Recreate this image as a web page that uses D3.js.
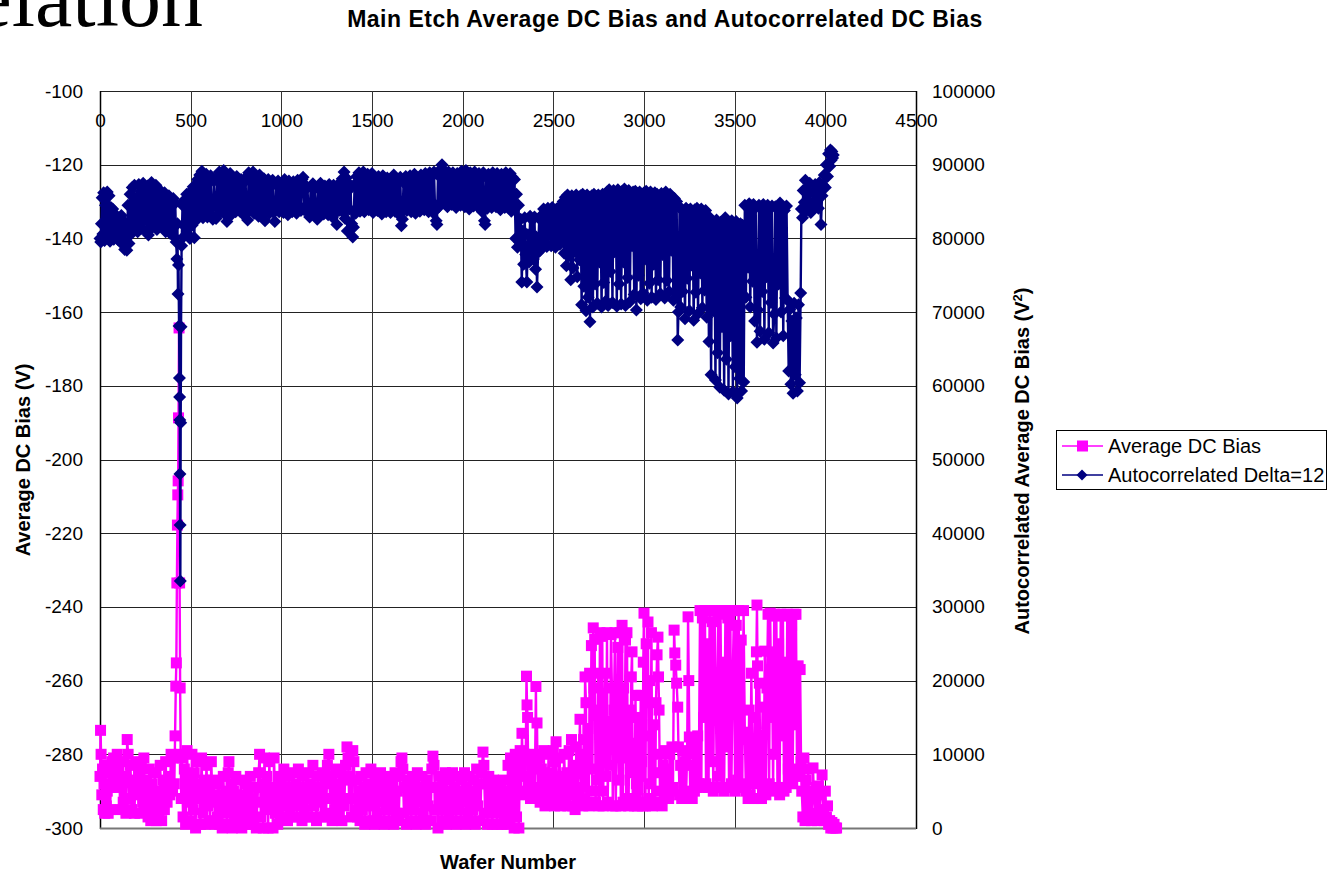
<!DOCTYPE html>
<html lang="en">
  <head>
    <meta charset="UTF-8">
    <title>Main Etch Average DC Bias and Autocorrelated DC Bias</title>
    <style>
      body { margin: 0; background: #fff; }
      svg text { font-family: "Liberation Sans", Arial, sans-serif; }
    </style>
  </head>
  <body>
    <div id="data_viz_area"></div>
    <script src="https://d3js.org/d3.v7.min.js"></script>
    <script>
    // [wafer number, average DC bias (V)] -> left axis
    var avgDcBias = [
      [0,-286],[3,-273.5],[6,-280],[10,-291],[14,-284],[18,-295],[22,-288],[26,-296],[30,-283],[35,-294],[40,-290],[45,-296],[50,-285],[55,-295],[60,-289],
      [65,-282],[70,-288],[75,-281],[80,-287],[85,-283],[90,-289],[95,-280],[100,-287],
      [105,-284],[112,-295],[120,-282],[128,-293],[136,-286],[143,-296],[150,-276],[155,-280],[160,-292],[168,-283],[175,-295],[182,-287],[190,-296],[198,-282],
      [205,-291],[212,-285],[220,-296],[228,-283],[235,-293],[242,-281],[250,-295],[258,-287],[265,-297],[272,-284],[280,-298],[288,-288],[295,-297],[302,-285],
      [310,-298],[318,-290],[325,-296],[332,-283],[340,-298],[348,-287],[355,-295],[362,-282],[370,-293],[378,-286],[385,-291],[392,-280],[400,-290],[406,-281],[410,-288],
      [414,-275],[418,-261.5],[421,-255.2],[424,-233.5],[427,-217.8],[429,-209.6],[431,-205.8],[433,-188.7],[436,-164.3],[439,-233.5],[442,-262],[445,-280],[448,-292],
      [452,-281],[458,-297],[465,-284],[472,-299],[480,-279],[487,-293],[494,-286],[500,-298],[507,-280],[514,-295],[520,-285],[527,-300],[534,-282],[540,-292],
      [547,-288],[554,-299],[560,-281],[567,-296],[574,-287],[580,-299],[587,-283],[594,-294],[600,-289],[607,-298],[614,-282],[620,-293],[627,-287],[634,-299],[640,-291],[647,-297],
      [654,-288],[660,-299],[667,-291],[674,-300],[680,-286],[687,-296],[694,-290],[700,-299],[707,-285],[711,-282],[716,-295],[722,-288],[729,-300],[736,-290],
      [742,-297],[749,-286],[756,-299],[762,-291],[769,-298],[776,-287],[782,-300],[789,-292],[796,-297],[802,-288],[809,-299],[816,-290],[822,-296],[829,-286],
      [836,-299],[842,-292],[849,-298],[856,-289],[862,-300],[868,-293],
      [875,-285],[880,-280],[887,-297],[894,-288],[900,-300],[907,-281],[914,-295],[920,-286],[927,-300],[934,-282],[940,-294],[947,-289],[954,-300],[960,-281],
      [967,-296],[974,-290],[980,-299],[987,-286],[994,-297],
      [1000,-288],[1007,-297],[1014,-284],[1020,-294],[1027,-289],[1034,-298],[1040,-286],[1047,-295],[1054,-290],[1060,-297],[1067,-285],[1074,-293],[1080,-288],
      [1087,-297],[1094,-284],[1100,-294],[1107,-290],[1114,-298],[1120,-286],[1127,-295],[1134,-289],[1140,-297],[1147,-285],[1154,-292],[1160,-288],[1167,-297],
      [1174,-283],[1180,-294],[1187,-290],[1194,-298],[1200,-286],[1207,-293],[1214,-289],[1220,-297],
      [1227,-285],[1234,-297],[1240,-287],[1247,-296],[1254,-283],[1262,-280],[1268,-292],[1274,-286],[1280,-298],[1287,-288],[1294,-295],[1300,-284],[1307,-297],
      [1314,-289],[1320,-296],[1327,-285],[1334,-298],[1340,-287],[1347,-294],[1354,-283],[1362,-278],[1368,-281],[1374,-292],[1380,-286],[1387,-297],[1394,-279],
      [1400,-282],[1407,-295],[1414,-287],[1420,-297],
      [1427,-290],[1434,-298],[1440,-286],[1447,-295],[1454,-289],[1460,-299],[1467,-285],[1474,-293],[1480,-288],[1487,-298],[1494,-284],[1500,-294],[1507,-290],
      [1514,-299],[1520,-286],[1527,-296],[1534,-288],[1540,-298],[1547,-285],[1554,-293],[1560,-289],[1567,-299],[1574,-287],[1580,-295],[1587,-290],[1594,-298],
      [1600,-286],[1607,-294],[1614,-288],[1620,-299],[1627,-285],[1634,-296],[1640,-290],[1647,-298],[1654,-286],[1660,-282],[1665,-281],[1670,-284],[1676,-296],
      [1683,-289],[1690,-299],[1696,-287],[1703,-294],[1710,-290],[1716,-298],[1723,-286],[1730,-295],[1736,-288],[1743,-299],[1750,-285],[1756,-293],[1763,-289],
      [1770,-298],[1776,-286],[1783,-296],[1790,-290],[1796,-299],[1803,-287],[1810,-294],[1816,-289],[1823,-298],
      [1830,-284],[1836,-280.5],[1842,-283],[1849,-295],[1856,-289],[1864,-300],[1870,-292],
      [1877,-286],[1884,-298],[1890,-288],[1897,-295],[1904,-285],[1910,-299],[1917,-290],[1924,-296],[1930,-287],[1937,-298],[1944,-285],[1950,-294],[1957,-289],
      [1964,-299],[1970,-286],[1977,-295],[1984,-290],[1990,-298],[1997,-287],[2004,-293],[2010,-285],[2017,-299],[2024,-289],[2030,-296],[2037,-286],[2044,-298],
      [2050,-290],[2057,-295],[2064,-287],[2070,-299],[2077,-284],[2084,-294],[2090,-288],[2097,-298],
      [2104,-285],[2112,-279.4],[2117,-283],[2124,-296],[2130,-288],[2137,-299],[2144,-286],[2150,-295],[2157,-289],[2164,-299],[2170,-287],[2177,-296],[2184,-290],
      [2190,-299],[2197,-288],[2204,-295],[2210,-289],[2217,-299],[2224,-287],[2230,-297],[2237,-290],[2244,-299],
      [2250,-283],[2257,-298],[2264,-281],[2270,-296],[2277,-284],[2284,-300],[2290,-280],[2297,-297],[2304,-282],[2310,-300],[2317,-279],[2322,-291],[2327,-274.3],
      [2333,-286],[2340,-280],[2346,-290],[2352,-258.8],[2355,-266.6],[2358,-270],[2362,-288],[2368,-281],[2374,-292],[2380,-283],[2386,-291],[2392,-280],[2398,-289],
      [2404,-261.6],[2407,-283],[2410,-271.5],[2414,-290],
      [2420,-281],[2427,-293],[2434,-284],[2440,-292],[2447,-279],[2454,-294],[2460,-286],[2467,-292],[2474,-280],[2480,-293],[2487,-285],[2494,-291],[2500,-279],
      [2507,-294],[2512,-282],[2515,-276.6],[2520,-288],[2527,-293],[2534,-281],[2540,-294],[2547,-286],[2554,-292],[2560,-280],[2567,-293],[2574,-285],[2580,-294],[2587,-279],
      [2594,-291],[2600,-276],[2607,-294],[2614,-283],[2620,-295],[2627,-278],[2634,-290],[2640,-284],
      [2647,-270.5],[2652,-292],[2657,-280],[2662,-294],[2667,-276],[2672,-289],[2675,-259],[2680,-266],[2684,-293],[2690,-273],[2696,-294],[2700,-258],[2705,-284],
      [2710,-250.5],[2715,-290],[2720,-245.7],[2724,-262],[2728,-248.8],[2733,-293],[2738,-268],[2742,-287],[2747,-258],[2752,-294],[2757,-247],[2762,-280],[2767,-290],
      [2770,-248],[2774,-294],[2780,-275],[2786,-258],[2791,-286],[2796,-247],[2800,-293],[2806,-271],[2812,-283],[2818,-247.5],[2823,-262],[2828,-294],[2834,-268],
      [2840,-247],[2844,-294],[2850,-276],[2856,-251],[2862,-287],[2868,-247],[2872,-294],[2879,-245],[2884,-293],[2888,-262],[2893,-281],[2898,-249],[2902,-292],
      [2906,-247],[2910,-278],[2915,-294],[2920,-268],[2925,-285],[2930,-259],[2934,-252.2],[2938,-292],[2943,-277],[2948,-294],[2953,-264],[2958,-288],
      [2964,-294],[2968,-270],[2972,-286],[2977,-293],[2982,-264],[2987,-282],[2992,-294],[2996,-255],[3000,-241.7],[3004,-275],[3008,-294],[3012,-250],[3017,-266],
      [3022,-244.1],[3026,-292],[3031,-260],[3036,-288],[3041,-247],[3046,-294],[3051,-272],[3056,-285],[3062,-293],[3066,-266],[3072,-253],[3077,-248.2],[3080,-259],
      [3083,-268],[3088,-290],[3094,-280],[3100,-294],[3106,-283],[3112,-292],[3118,-279],[3124,-291],
      [3130,-284],[3136,-292],[3142,-280],[3148,-290],[3154,-278],[3160,-289],[3166,-246.3],[3170,-252.5],[3175,-255.8],[3180,-260.7],[3186,-267.2],[3190,-278],
      [3196,-291],[3202,-283],[3208,-292],[3214,-279],[3220,-290],[3226,-282],[3232,-291],[3238,-280],
      [3243,-242.7],[3247,-260],[3250,-275.3],[3255,-291],[3260,-283],[3266,-292],[3272,-279],[3278,-290],[3284,-277],[3290,-289],[3296,-275],[3302,-288],
      [3309,-241],[3316,-289],[3322,-243],[3329,-270],[3336,-241],[3342,-288],[3349,-250],[3356,-289],[3362,-241],[3369,-282],[3376,-244],[3382,-290],[3389,-241],
      [3396,-265],[3402,-289],[3409,-242],[3416,-286],[3422,-241],[3429,-289],[3436,-255],[3442,-290],[3449,-241],[3456,-278],[3462,-243],[3469,-289],[3476,-241],
      [3482,-288],[3489,-260],[3496,-241],[3502,-290],[3509,-245],[3516,-287],[3522,-241],[3529,-289],[3536,-249],[3542,-288],[3549,-241],[3556,-274],
      [3562,-290],[3568,-276],[3574,-292],[3580,-268],[3586,-291],[3592,-258],[3598,-285],[3604,-292],[3610,-270],[3616,-288],[3620,-252.2],[3623,-239.5],[3626,-256],
      [3630,-292],[3636,-260.7],[3642,-284],[3648,-292],[3654,-267.2],[3660,-289],[3666,-252],[3672,-291],[3678,-262],
      [3684,-242],[3690,-288],[3696,-241.7],[3702,-270],[3706,-252.2],[3712,-290],[3718,-242],[3724,-280],[3730,-242.5],[3736,-289],[3742,-250],[3748,-291],[3754,-242],
      [3760,-275],[3766,-242],[3772,-290],[3778,-255],[3784,-289],[3790,-242],[3796,-284],[3802,-242.5],[3808,-286],[3814,-245],[3820,-288],[3826,-242],[3832,-272],
      [3838,-242],[3844,-286],[3850,-256],[3856,-284],[3861,-257],[3866,-282],
      [3870,-290],[3876,-297],[3882,-281],[3888,-298],[3894,-287],[3900,-297],[3906,-284],[3912,-296],[3918,-290],[3924,-298],[3932,-283.7],[3938,-292],[3944,-297],
      [3950,-289],[3956,-298],[3962,-288.6],[3968,-296],[3974,-291],[3982,-285.6],[3988,-295],[3994,-298],[4000,-290],[4006,-297],[4012,-294],[4018,-299],[4024,-298],
      [4030,-300],[4036,-298.5],[4042,-300],[4048,-299],[4055,-300],[4062,-300]
    ];

    // [wafer number, autocorrelated average DC bias (V^2), delta = 12] -> right axis
    var autoDcBias = [
      [0,80000],[4,79500],[8,82000],[12,85500],[16,80600],[20,86200],[25,79700],[30,84500],[35,81200],[40,86300],[45,80000],[50,85800],[55,79600],[60,84200],
      [65,80800],[70,84000],[76,79900],[82,82900],[88,80300],[94,83000],[100,79800],[106,82600],[112,80400],[118,83100],[124,79200],[130,82400],[136,78500],
      [142,81800],[148,78400],[154,84500],[160,79300],[166,86000],[172,80600],
      [178,86900],[184,81800],[190,87200],[196,82400],[202,85500],[208,80900],[214,87300],[220,82000],[226,86400],[232,81300],[238,87500],[244,82600],[250,86000],
      [256,81000],[262,87100],[267,80460],[272,85800],[278,82300],[284,87600],[290,81500],[296,86600],[302,82800],[308,87200],[314,81200],[320,86000],[326,82100],
      [332,86500],[338,81700],[344,85600],[350,82500],[356,86200],[362,80900],[368,85300],[374,81900],[380,85800],[386,80700],[392,85000],[398,81600],[404,85400],[410,80200],
      [415,84800],[420,79500],[424,77200],[427,82000],[430,72460],[433,76400],[436,68100],[438,61060],[439,58480],[440,55360],[441,48030],[442,41110],[443,33510],
      [445,55000],[447,68000],[450,79000],[455,84500],
      [460,80200],[466,85200],[472,81500],[478,86000],[484,80600],[490,85500],[496,80000],[502,86400],[508,81800],[514,87000],[520,80100],[526,86800],[532,82500],[538,88000],
      [544,83500],[550,88600],[556,84200],[562,89100],[568,82800],[574,88300],[580,83600],[586,88700],[592,82900],[598,87900],[604,84300],[610,88500],[616,83100],
      [622,82600],[628,87800],[634,84600],[640,82700],[646,88300],[652,84000],[658,89000],[664,83500],[670,88600],[676,84700],[682,89200],[688,83300],[694,88000],
      [700,82300],[706,87600],[712,84400],[718,88800],[724,83200],[730,88100],[736,84800],[742,87900],[748,83600],[754,88400],[760,84200],[766,87800],[772,83700],
      [778,88000],[784,84500],[790,87500],[796,83100],[802,88200],[808,84000],[814,82500],[820,88900],[826,83800],[832,88300],[838,84600],[844,89000],[850,83400],
      [856,88500],[862,84300],[868,87900],[874,83000],[880,88600],[886,84100],[892,87700],[898,83300],[904,88100],[910,82400],[916,87600],[922,84200],[928,88000],
      [934,83400],[940,87500],[946,84000],[952,87900],[958,83500],[964,82300],[970,87300],[976,84400],[982,87800],[988,83600],[994,87200],
      [1000,84200],[1006,87600],[1012,83500],[1018,88000],[1024,84100],[1030,87400],[1036,83200],[1042,87800],[1048,84300],[1054,87100],[1060,83600],[1066,87700],
      [1072,84000],[1078,87300],[1084,83400],[1090,87900],[1096,84500],[1102,87600],[1108,83800],[1114,88000],[1120,88300],[1126,83900],[1132,87200],[1138,84200],
      [1144,86900],[1150,83500],[1156,82900],[1162,87000],[1168,84100],[1174,87400],[1180,83600],[1186,86800],[1192,84000],[1198,82600],[1204,86900],[1210,83700],
      [1216,87500],[1222,84100],[1228,86700],[1234,83300],[1240,87100],[1246,84000],[1252,86600],[1258,83200],[1264,87300],[1270,83900],[1276,86800],[1282,82900],
      [1288,87200],[1294,83600],[1300,86500],[1306,81900],[1312,87000],[1318,83800],[1324,87600],[1330,84100],[1336,88100],[1342,83500],[1346,89000],[1352,82700],
      [1358,88200],[1364,81000],[1370,87500],[1376,84000],
      [1382,86800],[1388,82000],[1394,80200],[1398,81500],[1404,87300],[1410,83400],[1416,88400],
      [1422,84200],[1428,88900],[1434,83700],[1440,88400],[1446,84500],[1452,89000],[1458,83600],[1464,88200],[1470,84300],[1476,88700],[1482,83900],[1488,88100],
      [1494,84600],[1500,88800],[1506,83500],[1512,88300],[1518,84200],[1524,87800],[1530,83800],[1536,88400],[1542,84400],[1548,87900],[1554,83300],[1560,88500],
      [1566,84000],[1572,87700],[1578,83600],[1584,88200],[1590,84300],[1596,87600],[1602,83500],[1608,88000],[1614,84200],[1620,88600],[1626,83700],[1632,88100],
      [1638,84400],[1644,87900],[1650,83200],[1656,88300],[1662,81700],[1668,82600],[1674,87600],[1680,84100],[1686,88400],[1692,83800],[1698,87900],[1704,84300],
      [1710,88500],[1716,83600],[1722,88000],[1728,84200],[1734,88700],[1740,83400],[1746,88200],[1752,84100],[1758,87800],[1764,83700],[1770,88600],[1776,84500],
      [1782,88100],[1788,83900],[1794,88800],[1800,84400],[1806,88300],[1812,83600],[1818,88900],[1824,84000],[1830,88400],[1836,83500],[1842,89000],[1848,83800],
      [1854,82400],[1858,81900],[1864,88600],[1870,84300],[1876,89300],[1882,85000],[1886,90000],
      [1892,84800],[1898,89200],[1904,85100],[1910,88700],[1916,84300],[1922,89000],[1928,85200],[1934,88500],[1940,84600],[1946,88900],[1952,85000],[1958,88400],
      [1964,84200],[1970,88800],[1976,85100],[1982,88600],[1988,84500],[1994,89100],[2000,84900],[2006,88700],[2012,84300],[2018,89200],[2024,85100],[2030,88500],
      [2036,84000],[2042,88900],[2048,85000],[2054,88400],[2060,84400],[2066,89000],[2072,85200],[2078,88600],[2084,84300],[2090,88800],[2096,84700],[2102,88500],
      [2108,83600],[2114,88900],[2120,82400],[2124,81900],[2130,88300],[2136,84100],[2142,88700],[2148,84800],[2154,88400],[2160,84200],[2166,88900],[2172,85000],
      [2178,88500],[2184,84300],[2190,88800],[2196,84600],[2202,88300],[2208,83900],[2214,88700],[2220,84800],[2226,88400],[2232,84200],[2238,88900],[2244,84600],
      [2250,88500],[2256,84100],[2262,88800],[2268,83700],[2274,88300],
      [2280,84000],[2286,88000],[2292,80000],[2297,86000],[2302,78800],[2308,84500],[2314,79500],[2320,82600],[2326,74100],[2332,81000],[2336,76500],
      [2342,82800],[2348,77800],[2354,74100],[2360,80500],[2366,76800],[2372,83000],[2378,78600],[2384,82500],[2390,77200],[2396,82900],[2402,75800],[2406,80200],
      [2410,73400],[2416,78100],[2422,82700],[2428,78400],[2434,83100],[2440,79200],
      [2446,84000],[2452,79500],[2458,83700],[2464,78900],[2470,84100],[2476,80600],[2482,83600],[2488,79000],[2494,84200],[2500,80000],[2506,83800],[2512,78800],
      [2518,84000],[2524,79800],[2530,83700],[2536,79200],[2542,84500],[2548,80400],[2554,85000],
      [2560,78000],[2566,85600],[2572,76300],[2578,85900],[2584,77600],[2590,85400],[2596,74400],[2602,85800],[2608,76000],[2614,85500],[2620,78200],[2626,85900],
      [2632,74800],[2638,85600],[2644,77100],
      [2650,85800],[2656,71000],[2662,86000],[2668,73500],[2674,85700],[2680,70200],[2686,85900],[2692,72000],[2698,85600],[2702,68700],[2706,76000],[2712,85800],
      [2718,70700],[2724,86000],[2730,73800],
      [2736,85700],[2742,71200],[2748,85900],[2754,76800],[2760,85600],[2766,70700],[2772,86000],[2778,74000],[2784,85800],[2790,71500],
      [2796,86300],[2802,70900],[2808,86600],[2814,75500],[2820,85800],[2826,71300],[2832,86500],[2838,78200],[2844,86100],[2850,70800],[2856,86600],[2862,73800],
      [2868,85900],[2874,71100],[2880,86400],[2886,76800],[2892,86700],[2898,70900],[2904,86200],[2910,74700],[2916,86500],[2922,71400],[2928,85800],[2934,79000],
      [2940,86300],[2946,72400],
      [2952,86400],[2958,70300],[2964,86100],[2970,75000],[2976,86300],[2982,71800],[2988,85900],[2994,72600],[3000,86200],[3006,77200],[3012,86400],[3018,71600],
      [3024,86000],[3030,73900],[3036,86300],[3042,72000],[3048,85800],[3054,76500],[3060,86200],[3066,71700],[3072,86000],[3078,74400],[3084,85700],[3090,72500],
      [3096,86100],[3102,77800],[3108,85900],[3114,71900],[3120,86300],[3126,74300],[3132,85800],[3138,72800],[3144,86000],[3150,78400],[3156,85600],[3162,71600],[3168,85400],
      [3174,72000],[3180,85000],[3186,66200],[3190,70000],[3196,84200],
      [3202,70700],[3208,84000],[3214,72800],[3220,83700],[3226,69100],[3232,84100],[3238,74600],[3244,83800],[3250,70200],[3256,84000],[3262,76400],[3268,83600],
      [3274,68900],[3280,83900],[3286,72700],[3292,84100],[3298,69800],[3304,83700],[3310,75300],[3316,84000],[3322,70600],[3328,83500],[3334,73000],[3340,83800],[3346,69300],
      [3352,82600],[3358,66000],[3364,82800],[3370,61500],[3376,82300],[3382,70200],[3388,81900],[3394,60800],[3400,82500],[3406,64500],[3412,81700],[3418,59800],
      [3424,82200],[3430,68000],[3436,81800],[3442,59400],[3448,82800],[3454,63600],[3460,82100],[3466,58900],[3472,81600],[3478,66800],[3484,82400],[3490,59200],
      [3496,81900],[3502,62600],[3508,82300],[3514,58350],[3520,81700],[3526,61000],[3532,82000],[3538,59300],[3544,81800],[3550,60500],
      [3556,84500],[3562,72000],[3568,84300],[3574,76100],[3580,84700],[3586,70700],[3592,84400],[3598,74200],[3604,84600],[3610,68800],[3616,84200],[3623,65900],
      [3628,70300],[3634,84500],[3640,67400],[3646,84300],[3652,72800],[3658,84600],[3664,66300],[3670,84200],[3676,74800],[3682,84500],[3688,67200],[3694,84000],
      [3700,71300],[3706,84400],[3712,65800],[3718,69700],[3724,84300],[3730,66500],[3736,84100],[3742,73800],[3750,84800],[3756,70000],[3762,84200],[3768,66800],
      [3774,83800],[3780,71900],[3786,84400],
      [3792,71600],[3798,62000],[3804,70400],[3810,60200],[3816,68800],[3822,59000],[3828,71200],[3834,61500],[3840,69200],[3846,59300],[3852,71000],[3858,60400],
      [3864,72600],[3868,84000],
      [3874,82800],[3878,86500],[3884,84900],[3890,87900],[3896,83800],[3902,86600],[3908,84600],[3914,87500],[3920,83500],[3927,83990],[3932,86200],[3938,84700],
      [3944,87300],[3950,85200],[3956,86800],[3962,84100],[3968,87600],[3976,81900],[3982,85800],
      [3988,87200],[3994,88600],[4000,86900],[4006,90000],[4012,88400],[4018,91500],[4024,89800],[4028,92000],[4032,90600],[4036,91800],[4040,90900],[4044,91300]
    ];

    var xTicks = [0, 500, 1000, 1500, 2000, 2500, 3000, 3500, 4000, 4500];
    var leftTicks = [-300, -280, -260, -240, -220, -200, -180, -160, -140, -120, -100];
    var rightTicks = [0, 10000, 20000, 30000, 40000, 50000, 60000, 70000, 80000, 90000, 100000];
    var seriesNames = ["Average DC Bias", "Autocorrelated Delta=12"];
    var seriesColors = ["#FF00FF", "#000080"];

    var margin = {top: 91, right: 412, bottom: 47, left: 100},
        width = 1328 - margin.left - margin.right,
        height = 875 - margin.top - margin.bottom;

    var svg = d3.select("#data_viz_area")
      .append("svg")
        .attr("width", 1328)
        .attr("height", 875);

    // left-over piece of the slide heading (cut by the top edge, as on the slide)
    svg.append("text")
        .attr("x", 203)
        .attr("y", 26)
        .attr("text-anchor", "end")
        .style("font-family", '"Liberation Serif", "Times New Roman", serif')
        .style("font-size", "84px")
        .text("elation");

    svg.append("text")
        .attr("x", 665)
        .attr("y", 27)
        .attr("text-anchor", "middle")
        .style("font-size", "23px")
        .style("font-weight", "bold")
        .style("letter-spacing", "0.5px")
        .text("Main Etch Average DC Bias and Autocorrelated DC Bias");

    var chart = svg.append("g")
        .attr("transform", "translate(" + margin.left + "," + margin.top + ")");

    var x = d3.scaleLinear().domain([0, 4500]).range([0, width]);
    var yLeft = d3.scaleLinear().domain([-300, -100]).range([height, 0]);
    var yRight = d3.scaleLinear().domain([0, 100000]).range([height, 0]);

    // gridlines
    chart.selectAll(".hgrid")
      .data(leftTicks)
      .enter()
      .append("line")
        .attr("x1", 0)
        .attr("x2", width)
        .attr("y1", function(d){ return Math.round(yLeft(d)) + 0.5; })
        .attr("y2", function(d){ return Math.round(yLeft(d)) + 0.5; })
        .attr("stroke", "#222")
        .attr("stroke-width", 1);

    chart.selectAll(".vgrid")
      .data(xTicks)
      .enter()
      .append("line")
        .attr("x1", function(d){ return Math.round(x(d)) + 0.5; })
        .attr("x2", function(d){ return Math.round(x(d)) + 0.5; })
        .attr("y1", 0)
        .attr("y2", height)
        .attr("stroke", "#333")
        .attr("stroke-width", 1);

    // axes (labels only, the frame is drawn separately)
    function styleAxis(g) {
      g.select(".domain").remove();
      g.attr("font-size", 19)
       .attr("font-family", '"Liberation Sans", Arial, sans-serif');
      g.selectAll("text").attr("fill", "#000");
    }

    chart.append("g")
        .call(d3.axisBottom(x).tickValues(xTicks).tickSize(0).tickPadding(23)
          .tickFormat(function(d){ return String(d); }))
        .call(styleAxis);

    chart.append("g")
        .call(d3.axisLeft(yLeft).tickValues(leftTicks).tickSize(0).tickPadding(17)
          .tickFormat(function(d){ return String(d); }))
        .call(styleAxis);

    chart.append("g")
        .attr("transform", "translate(" + width + ",0)")
        .call(d3.axisRight(yRight).tickValues(rightTicks).tickSize(0).tickPadding(16)
          .tickFormat(function(d){ return String(d); }))
        .call(styleAxis);

    chart.append("line")
        .attr("x1", 0.5).attr("x2", 0.5).attr("y1", 0).attr("y2", height + 1)
        .attr("stroke", "#000").attr("stroke-width", 1.5);
    chart.append("line")
        .attr("x1", width + 0.5).attr("x2", width + 0.5).attr("y1", 0).attr("y2", height + 1)
        .attr("stroke", "#000").attr("stroke-width", 1.5);
    chart.append("line")
        .attr("x1", 0).attr("x2", width).attr("y1", height + 0.5).attr("y2", height + 0.5)
        .attr("stroke", "#777").attr("stroke-width", 2);

    // axis titles
    svg.append("text")
        .attr("transform", "translate(30,460) rotate(-90)")
        .attr("text-anchor", "middle")
        .style("font-size", "20px")
        .style("font-weight", "bold")
        .text("Average DC Bias (V)");

    var rTitle = svg.append("text")
        .attr("transform", "translate(1029,461) rotate(-90)")
        .attr("text-anchor", "middle")
        .style("font-size", "20px")
        .style("font-weight", "bold");
    rTitle.append("tspan").text("Autocorrelated Average DC Bias (V");
    rTitle.append("tspan").attr("dy", -7).style("font-size", "13px").text("2");
    rTitle.append("tspan").attr("dy", 7).text(")");

    svg.append("text")
        .attr("x", 508)
        .attr("y", 869)
        .attr("text-anchor", "middle")
        .style("font-size", "20px")
        .style("font-weight", "bold")
        .text("Wafer Number");

    // series: magenta first, navy on top
    var diamond = "M0,-6.5L6.5,0L0,6.5L-6.5,0Z";

    var lineLeft = d3.line()
        .x(function(d){ return x(d[0]); })
        .y(function(d){ return yLeft(d[1]); });
    var lineRight = d3.line()
        .x(function(d){ return x(d[0]); })
        .y(function(d){ return yRight(d[1]); });

    chart.append("path")
        .datum(avgDcBias)
        .attr("fill", "none")
        .attr("stroke", seriesColors[0])
        .attr("stroke-width", 2.4)
        .attr("stroke-linejoin", "round")
        .attr("d", lineLeft);

    chart.selectAll(".sq")
      .data(avgDcBias)
      .enter()
      .append("rect")
        .attr("x", function(d){ return x(d[0]) - 5.5; })
        .attr("y", function(d){ return yLeft(d[1]) - 5.5; })
        .attr("width", 11)
        .attr("height", 11)
        .attr("fill", seriesColors[0]);

    chart.append("path")
        .datum(autoDcBias)
        .attr("fill", "none")
        .attr("stroke", seriesColors[1])
        .attr("stroke-width", 2.4)
        .attr("stroke-linejoin", "round")
        .attr("d", lineRight);

    chart.selectAll(".dm")
      .data(autoDcBias)
      .enter()
      .append("path")
        .attr("d", diamond)
        .attr("transform", function(d){ return "translate(" + x(d[0]) + "," + yRight(d[1]) + ")"; })
        .attr("fill", seriesColors[1]);

    // legend
    var legend = svg.append("g");
    legend.append("rect")
        .attr("x", 1056.5).attr("y", 430.5)
        .attr("width", 270).attr("height", 59)
        .attr("fill", "#fff")
        .attr("stroke", "#000");

    seriesNames.forEach(function(name, i) {
      var ly = 446 + i * 29;
      legend.append("line")
          .attr("x1", 1062).attr("x2", 1103)
          .attr("y1", ly).attr("y2", ly)
          .attr("stroke", seriesColors[i])
          .attr("stroke-width", 1.5);
      if (i === 0) {
        legend.append("rect")
            .attr("x", 1077).attr("y", ly - 5.5)
            .attr("width", 11).attr("height", 11)
            .attr("fill", seriesColors[i]);
      } else {
        legend.append("path")
            .attr("d", "M0,-5.5L5.5,0L0,5.5L-5.5,0Z")
            .attr("transform", "translate(1082," + ly + ")")
            .attr("fill", seriesColors[i]);
      }
      legend.append("text")
          .attr("x", 1108)
          .attr("y", ly + 7)
          .style("font-size", "20px")
          .text(name);
    });
    </script>
  </body>
</html>
